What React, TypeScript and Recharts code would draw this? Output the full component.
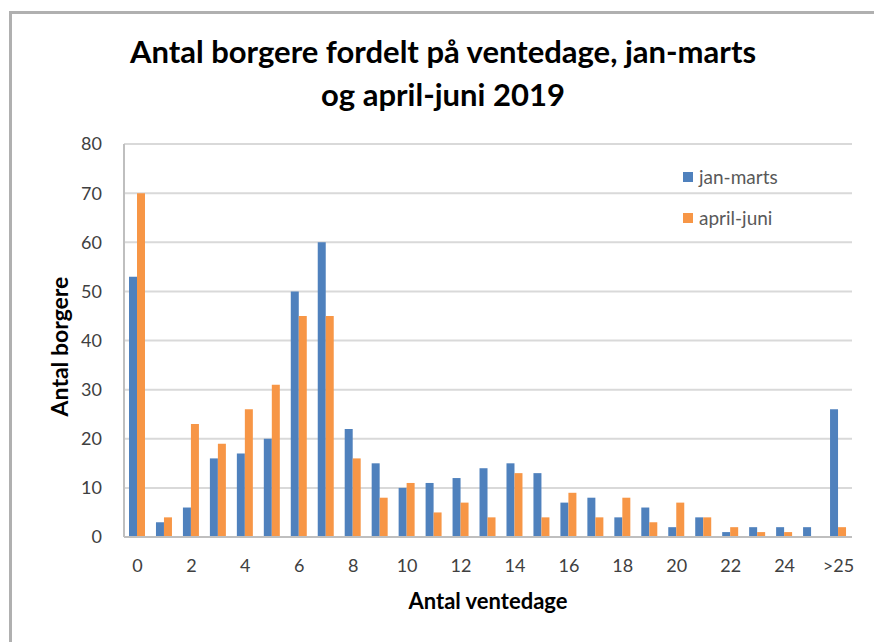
import React from "react";
import { BarChart, Bar, XAxis, YAxis, CartesianGrid, Label } from "recharts";

const categories = [
  "0", "1", "2", "3", "4", "5", "6", "7", "8", "9", "10", "11", "12", "13",
  "14", "15", "16", "17", "18", "19", "20", "21", "22", "23", "24", "25", ">25",
];
const janMarts = [53, 3, 6, 16, 17, 20, 50, 60, 22, 15, 10, 11, 12, 14, 15, 13, 7, 8, 4, 6, 2, 4, 1, 2, 2, 2, 26];
const aprilJuni = [70, 4, 23, 19, 26, 31, 45, 45, 16, 8, 11, 5, 7, 4, 13, 4, 9, 4, 8, 3, 7, 4, 2, 1, 1, 0, 2];
const yTicks = [0, 10, 20, 30, 40, 50, 60, 70, 80];

const BLUE = "#4F81BD";
const ORANGE = "#F79646";
const FONT = "Lato, 'Open Sans', sans-serif";

const data = categories.map((c, i) => ({
  day: c,
  janMarts: janMarts[i],
  aprilJuni: aprilJuni[i],
}));

// ─── Legend (vertical, top right of plot) ─────────────────────────────────────

function LegendBox() {
  const items = [
    { name: "jan-marts", color: BLUE },
    { name: "april-juni", color: ORANGE },
  ];
  return (
    <div style={{ position: "absolute", left: 683, top: 163, fontFamily: FONT }}>
      {items.map((it) => (
        <div
          key={it.name}
          style={{ display: "flex", alignItems: "center", height: 27, marginBottom: 14 }}
        >
          <div style={{ width: 10, height: 10, background: it.color, marginRight: 6 }} />
          <span style={{ fontSize: 19, color: "#595959" }}>{it.name}</span>
        </div>
      ))}
    </div>
  );
}

export default function App() {
  return (
    <div
      style={{
        position: "absolute",
        left: 0,
        top: 0,
        width: 874,
        height: 642,
        background: "#fff",
        overflow: "hidden",
      }}
    >
      <div
        style={{
          position: "absolute",
          left: 9,
          top: 11,
          width: 900,
          height: 700,
          borderTop: "3px solid #b0b0b0",
          borderLeft: "3px solid #b0b0b0",
        }}
      />
      <div
        style={{
          position: "absolute",
          left: 0,
          top: 30,
          width: 886,
          textAlign: "center",
          fontFamily: FONT,
          fontWeight: 700,
          fontSize: 31,
          lineHeight: "43px",
          color: "#000",
        }}
      >
        Antal borgere fordelt på ventedage, jan-marts
        <br />
        og april-juni 2019
      </div>
      <div style={{ position: "absolute", left: 0, top: 0 }}>
        <BarChart
          width={874}
          height={642}
          data={data}
          margin={{ top: 144, right: 22, bottom: 75, left: 80 }}
          barGap={0}
          barSize={8}
        >
          <CartesianGrid vertical={false} stroke="#d9d9d9" strokeWidth={2} />
          <XAxis
            dataKey="day"
            interval={1}
            height={30}
            tickLine={false}
            tickSize={0}
            tickMargin={22}
            axisLine={{ stroke: "#bfbfbf", strokeWidth: 2 }}
            tick={{ fontSize: 18, fill: "#404040", fontFamily: FONT }}
          >
            <Label
              value="Antal ventedage"
              position="bottom"
              offset={26}
              style={{ fontSize: 22, fontWeight: 700, fill: "#000", fontFamily: FONT }}
            />
          </XAxis>
          <YAxis
            domain={[0, 80]}
            ticks={yTicks}
            width={44}
            tickLine={false}
            tickSize={0}
            tickMargin={22}
            axisLine={{ stroke: "#bfbfbf", strokeWidth: 2 }}
            tick={{ fontSize: 18, fill: "#404040", fontFamily: FONT }}
          >
            <Label
              value="Antal borgere"
              angle={-90}
              position="left"
              offset={20}
              dy={6}
              style={{ fontSize: 23, fontWeight: 700, fill: "#000", fontFamily: FONT, textAnchor: "middle" }}
            />
          </YAxis>
          <Bar dataKey="janMarts" name="jan-marts" fill={BLUE} isAnimationActive={false} />
          <Bar dataKey="aprilJuni" name="april-juni" fill={ORANGE} isAnimationActive={false} />
        </BarChart>
      </div>
      <LegendBox />
    </div>
  );
}
